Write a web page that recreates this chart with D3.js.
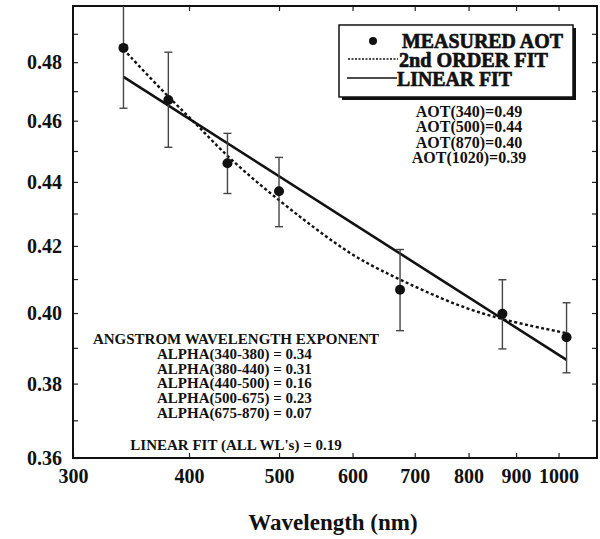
<!DOCTYPE html>
<html>
<head>
<meta charset="utf-8">
<script src="https://cdn.jsdelivr.net/npm/d3@7"></script>
<style>
  body { margin: 0; background: #fff; }
</style>
</head>
<body>
<div id="chart"></div>
<script>
// measured AOT at each wavelength, with error bar ends
const wavelengths = [340, 380, 440, 500, 675, 870, 1020];
const aot = [0.485, 0.467, 0.446, 0.437, 0.4068, 0.3998, 0.393];
const aotHigh = [0.506, 0.4835, 0.4558, 0.4479, 0.4189, 0.4098, 0.403];
const aotLow = [0.4642, 0.4512, 0.4363, 0.4259, 0.3949, 0.3897, 0.383];

// 2nd order fit
const fit2Wl = [340, 380, 410, 440, 502, 564, 611, 676, 765, 867, 1020];
const fit2Aot = [0.4845, 0.4679, 0.4581, 0.4479, 0.4336, 0.4224, 0.4157, 0.4097, 0.4029, 0.398, 0.3942];

// linear fit (straight in log-log), end points
const linWl = [340, 1020];
const linAot = [0.4749, 0.3866];

const xTicks = [300, 400, 500, 600, 700, 800, 900, 1000];
const yTicks = [0.36, 0.38, 0.40, 0.42, 0.44, 0.46, 0.48];
const yMinor = [0.37, 0.39, 0.41, 0.43, 0.45, 0.47, 0.49];

const legendLabels = ["MEASURED AOT", "2nd ORDER FIT", "LINEAR FIT"];
const aotNotes = ["AOT(340)=0.49", "AOT(500)=0.44", "AOT(870)=0.40", "AOT(1020)=0.39"];
const alphaTitle = "ANGSTROM WAVELENGTH EXPONENT";
const alphaNotes = ["ALPHA(340-380) = 0.34", "ALPHA(380-440) = 0.31", "ALPHA(440-500) = 0.16",
                    "ALPHA(500-675) = 0.23", "ALPHA(675-870) = 0.07"];
const linNote = "LINEAR FIT (ALL WL's) = 0.19";

const width = 600, height = 539;
const margin = { left: 73, right: 597, top: 6, bottom: 458 };
const serif = "'Liberation Serif', 'Times New Roman', Times, serif";

const svg = d3.select("#chart").append("svg")
    .attr("width", width)
    .attr("height", height);

function times(sel, size) {
    sel.style("font-family", serif)
        .style("font-weight", "700")
        .style("font-size", size + "px")
        .style("fill", "#111");
}

const x = d3.scaleLog().domain([300, 1100]).range([margin.left, margin.right]);
const y = d3.scaleLog().domain([0.36, 0.50]).range([margin.bottom, margin.top]);

svg.append("defs").append("clipPath").attr("id", "clip")
    .append("rect").attr("x", margin.left).attr("y", margin.top)
    .attr("width", margin.right - margin.left).attr("height", margin.bottom - margin.top);

// axes, ticks inward
function noDomain(g) { g.select(".domain").remove(); }

svg.append("g")
    .attr("transform", `translate(0,${margin.bottom})`)
    .call(d3.axisBottom(x).tickValues(xTicks).tickFormat(d3.format("d")).tickSize(-5).tickPadding(11))
    .call(noDomain)
    .call(g => g.selectAll("text").call(times, 20));

svg.append("g")
    .attr("transform", `translate(0,${margin.top})`)
    .call(d3.axisTop(x).tickValues(xTicks.slice(1)).tickFormat("").tickSize(-5))
    .call(noDomain);

svg.append("g")
    .attr("transform", `translate(${margin.left},0)`)
    .call(d3.axisLeft(y).tickValues(yTicks).tickFormat(d3.format(".2f")).tickSize(-5).tickPadding(11))
    .call(noDomain)
    .call(g => g.selectAll("text").call(times, 20));

svg.append("g")
    .attr("transform", `translate(${margin.left},0)`)
    .call(d3.axisLeft(y).tickValues(yMinor).tickFormat("").tickSize(-5))
    .call(noDomain);

svg.append("g")
    .attr("transform", `translate(${margin.right},0)`)
    .call(d3.axisRight(y).tickValues(yTicks.concat(yMinor).filter(d => d > 0.36)).tickFormat("").tickSize(-5))
    .call(noDomain);

svg.selectAll(".tick line").attr("stroke", "#222").attr("stroke-width", 1.2);

svg.append("rect")
    .attr("x", margin.left).attr("y", margin.top)
    .attr("width", margin.right - margin.left).attr("height", margin.bottom - margin.top)
    .attr("fill", "none").attr("stroke", "#111").attr("stroke-width", 2);

svg.append("text")
    .attr("x", 333).attr("y", 530)
    .attr("text-anchor", "middle")
    .call(times, 23)
    .text("Wavelength (nm)");

const plot = svg.append("g").attr("clip-path", "url(#clip)");

// linear fit
plot.append("path")
    .datum(linWl.map((w, i) => [w, linAot[i]]))
    .attr("fill", "none").attr("stroke", "#111").attr("stroke-width", 2.6)
    .attr("d", d3.line().x(d => x(d[0])).y(d => y(d[1])));

// 2nd order fit
plot.append("path")
    .datum(fit2Wl.map((w, i) => [w, fit2Aot[i]]))
    .attr("fill", "none").attr("stroke", "#111").attr("stroke-width", 2.4)
    .attr("stroke-dasharray", "3,2.5")
    .attr("d", d3.line().curve(d3.curveBasis).x(d => x(d[0])).y(d => y(d[1])));

// error bars
const bars = plot.append("g").attr("stroke", "#444").attr("stroke-width", 1.4);
bars.selectAll("line.v").data(wavelengths).join("line")
    .attr("x1", d => x(d)).attr("x2", d => x(d))
    .attr("y1", (d, i) => y(aotHigh[i])).attr("y2", (d, i) => y(aotLow[i]));
bars.selectAll("line.hi").data(wavelengths).join("line")
    .attr("x1", d => x(d) - 4).attr("x2", d => x(d) + 4)
    .attr("y1", (d, i) => y(aotHigh[i])).attr("y2", (d, i) => y(aotHigh[i]));
bars.selectAll("line.lo").data(wavelengths).join("line")
    .attr("x1", d => x(d) - 4).attr("x2", d => x(d) + 4)
    .attr("y1", (d, i) => y(aotLow[i])).attr("y2", (d, i) => y(aotLow[i]));

plot.selectAll("circle").data(wavelengths).join("circle")
    .attr("cx", d => x(d)).attr("cy", (d, i) => y(aot[i]))
    .attr("r", 5).attr("fill", "#111");

// legend
const lg = svg.append("g");
lg.append("rect").attr("x", 342).attr("y", 28).attr("width", 234).attr("height", 72).attr("fill", "#111");
lg.append("rect").attr("x", 339).attr("y", 25).attr("width", 234).attr("height", 72)
    .attr("fill", "#fff").attr("stroke", "#111").attr("stroke-width", 1.5);
lg.append("circle").attr("cx", 373).attr("cy", 41).attr("r", 4).attr("fill", "#111");
lg.append("line").attr("x1", 348).attr("x2", 398).attr("y1", 59).attr("y2", 59)
    .attr("stroke", "#111").attr("stroke-width", 1.6).attr("stroke-dasharray", "2,1.5");
lg.append("line").attr("x1", 347).attr("x2", 397).attr("y1", 78).attr("y2", 78)
    .attr("stroke", "#111").attr("stroke-width", 1.6);
// legend type is narrow in the original, so squeeze each label to its width
const legX = [402, 399, 397], legY = [48, 67, 86], legW = [161, 149, 115];
lg.selectAll("text.leg").data(legendLabels).join("text")
    .call(times, 21)
    .style("stroke", "#111").style("stroke-width", 0.7)
    .text(d => d)
    .each(function (d, i) {
        const s = legW[i] / this.getComputedTextLength();
        d3.select(this).attr("transform", `translate(${legX[i]},${legY[i]}) scale(${s},1)`);
    });

// notes
svg.append("g").selectAll("text").data(aotNotes).join("text")
    .attr("x", 469).attr("y", (d, i) => 117 + i * 15.3)
    .attr("text-anchor", "middle")
    .call(times, 16)
    .text(d => d);

svg.append("text")
    .attr("x", 236).attr("y", 344)
    .attr("text-anchor", "middle")
    .call(times, 15)
    .text(alphaTitle);

svg.append("g").selectAll("text").data(alphaNotes).join("text")
    .attr("x", 157).attr("y", (d, i) => 359 + i * 14.7)
    .call(times, 15)
    .text(d => d);

svg.append("text")
    .attr("x", 236).attr("y", 450)
    .attr("text-anchor", "middle")
    .call(times, 15)
    .text(linNote);
</script>
</body>
</html>
